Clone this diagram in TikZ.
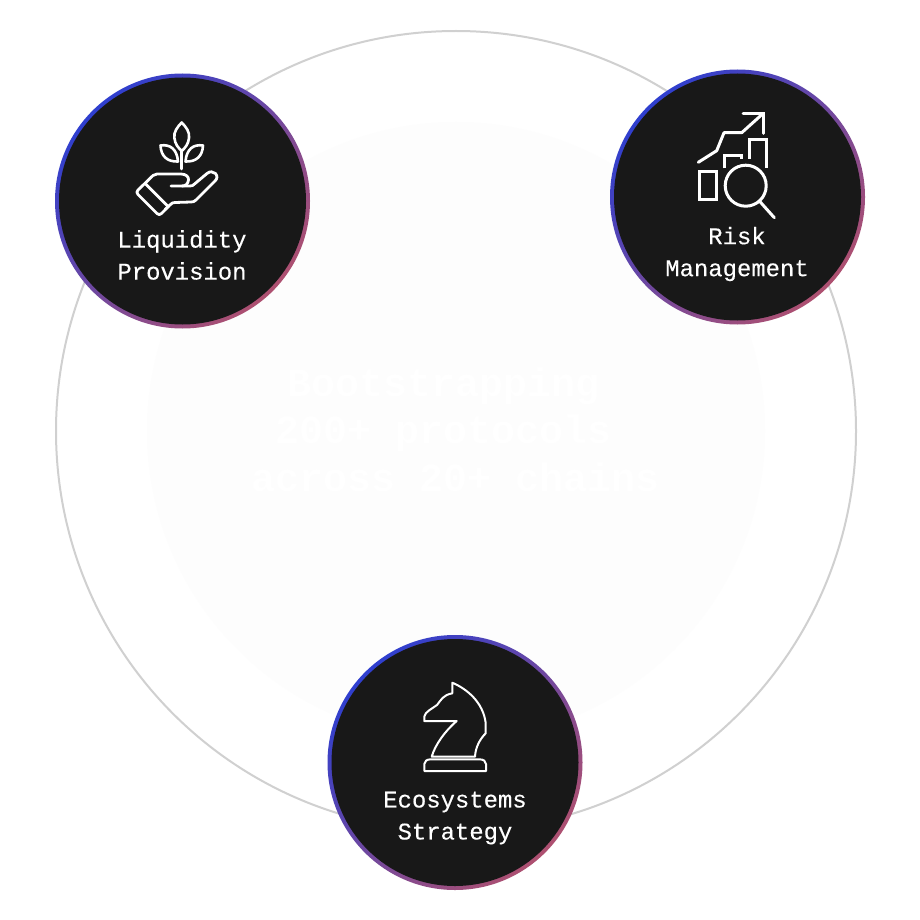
\documentclass[tikz,border=0pt]{standalone}
\usepackage{fontspec}
\setmainfont{Liberation Mono}
\newfontfamily\labelfont[FakeBold=0.25]{Liberation Mono}
\definecolor{ringblue}{HTML}{2F3FCF}
\definecolor{ringpink}{HTML}{AE5070}
\definecolor{diskdark}{HTML}{181818}
\definecolor{hubline}{HTML}{D0D0D0}
\definecolor{hubfill}{HTML}{FDFDFD}
\tikzset{
  ring/.style={circle,minimum size=255pt,inner sep=0pt,draw=none,left color=ringblue,right color=ringpink,shading angle=45},
  disk/.style={circle,minimum size=247pt,inner sep=0pt,draw=none,fill=diskdark},
  lbl/.style={text=white,font=\labelfont\fontsize{23.9pt}{32pt}\selectfont,align=center,inner sep=0pt},
  hub/.style={text=white,font=\bfseries\fontsize{40pt}{47.5pt}\selectfont,align=center,inner sep=0pt},
  ico/.style={draw=white,line width=3pt,line join=round,line cap=round,fill=none},
  icothin/.style={draw=white,line width=2pt,line join=round,fill=none}
}
\begin{document}
\begin{tikzpicture}[x=1pt,y=-1pt]
\useasboundingbox (0,0) rectangle (920,920);
\fill[white] (0,0) rectangle (920,920);
% hub
\node[circle,minimum size=800pt,inner sep=0pt,draw=hubline,line width=2pt] (outer) at (456,431) {};
\node[circle,minimum size=618pt,inner sep=0pt,fill=hubfill] (inner) at (456,431) {};
\node[hub] (hubtext) at (456,429.5) {Bootstrapping\phantom{x}\\200+ protocols\phantom{x}\\across 20+ chains};
% discs
\node[ring] (r1) at (182.5,201) {};
\node[disk] (d1) at (182.5,201) {};
\node[ring] (r2) at (737.5,197) {};
\node[disk] (d2) at (737.5,197) {};
\node[ring] (r3) at (455,762.5) {};
\node[disk] (d3) at (455,762.5) {};
\node[lbl] (t1) at (182,255) {Liquidity\\Provision};
\node[lbl] (t2) at (737,254) {Risk\\Management};
\node[lbl] (t3) at (455,818) {Ecosystems\\Strategy};
% plant + hand
\draw[ico,line width=2.6pt] (181.7,122.5) .. controls (186,127) and (190,132) .. (189,138) .. controls (188.5,144) and (185,148) .. (181.7,151)
  .. controls (178.4,148) and (174.9,144) .. (174.4,138) .. controls (173.4,132) and (177.4,127) .. (181.7,122.5) -- cycle;
\draw[ico,line width=2.6pt] (181.7,151) -- (181.7,169);
\draw[ico,line width=2.6pt] (160.5,145.5) .. controls (170,144) and (177,149) .. (178,161.5) .. controls (167,162) and (161,156) .. (160.5,145.5) -- cycle;
\draw[ico,line width=2.6pt] (203,145.5) .. controls (193.5,144) and (186.5,149) .. (185.5,161.5) .. controls (196.5,162) and (202.5,156) .. (203,145.5) -- cycle;
\draw[ico,line width=2.8pt] (145,183.3) -- (138,190) .. controls (136.5,191.5) and (136.5,193) .. (138,194.5) -- (157,213.5) .. controls (158.5,215) and (160,215) .. (161.5,213.5) -- (168.3,206.7) -- cycle;
\draw[ico,line width=2.8pt] (145,183.3) -- (153,175.5) .. controls (154.5,174.3) and (155.5,174) .. (157,174) -- (181,174) .. controls (186,174) and (189,177) .. (188.5,180) .. controls (188,184) and (185.5,186) .. (182,186) -- (171,186);
\draw[ico,line width=2.8pt] (182,186) -- (190,186) .. controls (192,186) and (193,185.5) .. (194.5,184) -- (207,173.5) .. controls (210,171) and (213,171.5) .. (215.5,173.5) .. controls (217.5,176) and (217.5,178.5) .. (215,181) -- (196,200) .. controls (194.5,201.5) and (193,202) .. (191,202) -- (175,202.5) .. controls (173,202.5) and (172,203) .. (170.5,204.5) -- (165,209.5);
% risk
\draw[ico] (698.3,162.3) -- (716.7,150.7) -- (724,132.7) -- (741.7,132.7) -- (763.3,113.3);
\draw[ico,line join=miter] (743,113.3) -- (763.3,113.3) -- (763.3,133.3);
\draw[ico,line join=miter,line cap=butt] (699.3,171.7) rectangle (716.2,199);
\draw[ico,line join=miter,line cap=butt] (724,168.3) -- (724,155.7) -- (741.7,155.7) -- (741.7,159.5);
\draw[ico,line join=miter,line cap=butt] (749.3,159) -- (749.3,140) -- (766,140) -- (766,168.3);
\draw[ico] (745.7,185.7) circle[radius=20.5];
\draw[ico] (760,201.7) -- (774.3,217.7);
% knight
\draw[icothin] (452.3,682.7) .. controls (467,689) and (483,702) .. (485.7,723) -- (485.7,733.3)
  .. controls (480,739) and (475.5,747) .. (475,756.7) -- (431.7,756.7)
  .. controls (435,745) and (445,731) .. (456.7,721) -- (424.3,721) -- (424.5,716)
  .. controls (425,712) and (433,708) .. (437,705) .. controls (441,700) and (443,695) .. (452.3,693.3) -- cycle;
\draw[icothin] (424.3,771) -- (424.3,764) .. controls (424.3,761) and (427,759.3) .. (431,759.3) -- (479,759.3) .. controls (483.5,759.3) and (486,761) .. (486,764) -- (486,771) -- cycle;
\end{tikzpicture}
\end{document}
